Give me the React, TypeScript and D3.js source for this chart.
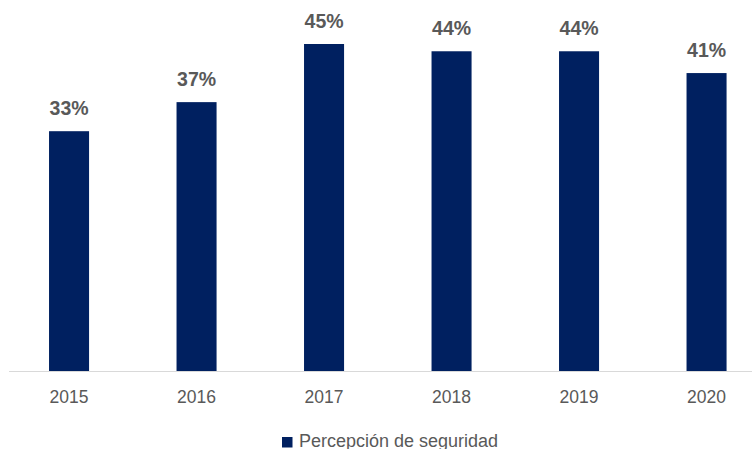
import React from "react";
import * as d3 from "d3";

const years = ["2015", "2016", "2017", "2018", "2019", "2020"];
const values = [33, 37, 45, 44, 44, 41];
const seriesName = "Percepción de seguridad";

const W = 752;
const H = 449;
const BAR_COLOR = "#002060";
const TEXT_COLOR = "#595959";
const FONT = "'Liberation Sans', Arial, sans-serif";

export default function App() {
  const x = d3
    .scaleBand<string>()
    .domain(years)
    .range([5.3, 770.3])
    .paddingInner(0.686)
    .paddingOuter(0.343);
  const y = d3.scaleLinear().domain([0, 45]).range([371, 44]);
  const bw = x.bandwidth();

  return (
    <svg
      width={W}
      height={H}
      style={{ position: "absolute", left: 0, top: 0, background: "#fff" }}
    >
      <rect x={0} y={0} width={W} height={H} fill="#fff" />
      {years.map((yr, i) => (
        <g key={yr}>
          <rect
            x={x(yr)!}
            y={y(values[i])}
            width={bw}
            height={y(0) - y(values[i])}
            fill={BAR_COLOR}
          />
          <text
            x={x(yr)! + bw / 2}
            y={y(values[i]) - 16}
            textAnchor="middle"
            fontFamily={FONT}
            fontWeight="bold"
            fontSize={19.5}
            fill={TEXT_COLOR}
          >
            {d3.format("d")(values[i]) + "%"}
          </text>
          <text
            x={x(yr)! + bw / 2}
            y={403}
            textAnchor="middle"
            fontFamily={FONT}
            fontSize={17.5}
            fill={TEXT_COLOR}
          >
            {yr}
          </text>
        </g>
      ))}
      <line x1={9} x2={W} y1={y(0) + 0.5} y2={y(0) + 0.5} stroke="#d9d9d9" strokeWidth={1} />
      <rect x={282} y={437} width={10.5} height={10.5} fill={BAR_COLOR} />
      <text x={299} y={446.5} fontFamily={FONT} fontSize={18} fill={TEXT_COLOR}>
        {seriesName}
      </text>
    </svg>
  );
}
